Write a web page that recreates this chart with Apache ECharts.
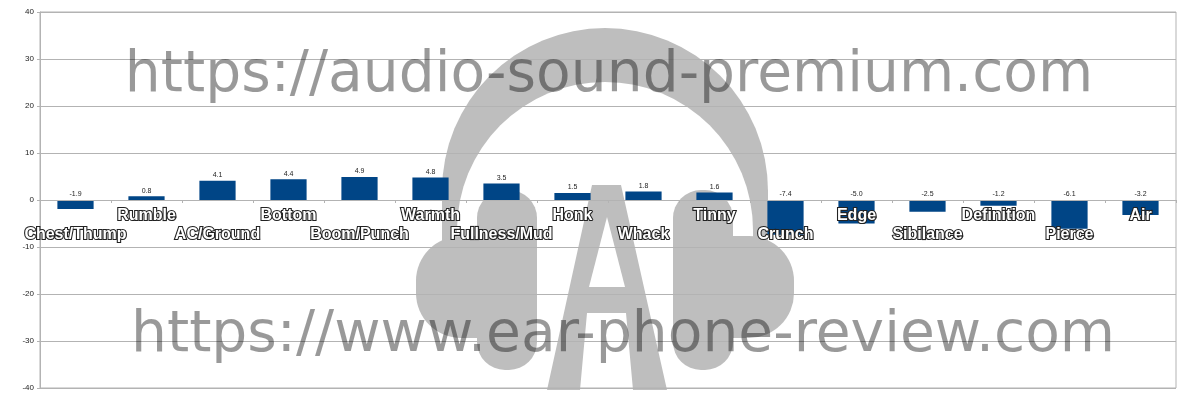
<!DOCTYPE html>
<html>
<head>
<meta charset="utf-8">
<script src="https://cdn.jsdelivr.net/npm/echarts@6/dist/echarts.min.js"></script>
<style>
html,body{margin:0;padding:0;background:#fff;}
#chart{width:1200px;height:400px;}
</style>
</head>
<body>
<div id="chart"></div>
<script>
const categories = ['Chest/Thump','Rumble','AC/Ground','Bottom','Boom/Punch','Warmth','Fullness/Mud','Honk','Whack','Tinny','Crunch','Edge','Sibilance','Definition','Pierce','Air'];
const values = [-1.9, 0.8, 4.1, 4.4, 4.9, 4.8, 3.5, 1.5, 1.8, 1.6, -7.4, -5.0, -2.5, -1.2, -6.1, -3.2];
const yMin = -40, yMax = 40, yStep = 10;
const watermarkTexts = ['https://audio-sound-premium.com', 'https://www.ear-phone-review.com'];

const GRAY = '#bebebe';
const chart = echarts.init(document.getElementById('chart'), null, {renderer: 'canvas'});

const logo = [
  {type:'sector', z:-20, shape:{cx:605, cy:191, r:163, r0:0, startAngle:Math.PI, endAngle:2*Math.PI}, style:{fill:GRAY}},
  {type:'rect', z:-20, shape:{x:442, y:190, width:326, height:55}, style:{fill:GRAY}},
  {type:'circle', z:-19, shape:{cx:605, cy:230, r:148}, style:{fill:'#fff'}},
  {type:'rect', z:-19, shape:{x:457, y:230, width:296, height:170}, style:{fill:'#fff'}},
  {type:'rect', z:-18, shape:{x:477, y:190, width:60, height:180, r:28}, style:{fill:GRAY}},
  {type:'rect', z:-18, shape:{x:416, y:236, width:90, height:102, r:[45,0,0,45]}, style:{fill:GRAY}},
  {type:'rect', z:-18, shape:{x:673, y:190, width:60, height:180, r:28}, style:{fill:GRAY}},
  {type:'rect', z:-18, shape:{x:704, y:236, width:90, height:102, r:[0,45,45,0]}, style:{fill:GRAY}},
  {type:'polygon', z:-17, shape:{points:[[592,185],[621,185],[667,390],[633,390],[626,313],[587,313],[580,390],[547,390]]}, style:{fill:GRAY}},
  {type:'polygon', z:-16, shape:{points:[[607,217],[625,287],[589,287]]}, style:{fill:'#fff'}}
];
const marks = [
  {type:'text', z:1, style:{text:watermarkTexts[0], x:609, y:76, fill:'rgba(0,0,0,0.4)', font:'56.7px "DejaVu Sans"', align:'center', verticalAlign:'middle'}},
  {type:'text', z:1, style:{text:watermarkTexts[1], x:623, y:336, fill:'rgba(0,0,0,0.4)', font:'56.7px "DejaVu Sans"', align:'center', verticalAlign:'middle'}}
];

chart.setOption({
  animation:false,
  backgroundColor:'#fff',
  grid:{left:40, right:24, top:12, bottom:12, outerBoundsMode:'none', containLabel:false, show:true, borderColor:'#b3b3b3', borderWidth:1},
  graphic:{elements: logo.concat(marks)},
  xAxis:{
    type:'category', data:categories, z:3,
    axisLine:{onZero:false, lineStyle:{color:'#b3b3b3'}},
    axisTick:{show:true, length:3, lineStyle:{color:'#b3b3b3'}},
    axisLabel:{
      interval:0, margin:6, hideOverlap:false,
      color:'#fff', fontFamily:'Liberation Sans', fontWeight:'bold', fontSize:16,
      textBorderColor:'#222', textBorderWidth:2.2, lineHeight:19,
      formatter:(v, i) => (i % 2 === 0 ? '\n' + v : v)
    }
  },
  yAxis:{
    type:'value', min:yMin, max:yMax, interval:yStep,
    axisLine:{show:true, lineStyle:{color:'#b3b3b3'}},
    axisTick:{show:true, length:3, lineStyle:{color:'#b3b3b3'}},
    axisLabel:{fontSize:8, color:'#222', margin:6, fontFamily:'Liberation Sans'},
    splitLine:{lineStyle:{color:'#b3b3b3'}}
  },
  series:[{
    type:'bar', data:values, barWidth:'51%', z:2,
    itemStyle:{color:'#004586'},
    label:{show:true, position:'top', distance:2, fontSize:7, color:'#222', fontFamily:'Liberation Sans',
      formatter:(p) => p.value.toFixed(1)}
  }]
});
// place the category axis on the zero line of the value axis
const zeroY = chart.convertToPixel({yAxisIndex:0}, 0);
const bottomY = chart.convertToPixel({yAxisIndex:0}, yMin);
chart.setOption({xAxis:{offset: zeroY - bottomY}});
</script>
</body>
</html>
